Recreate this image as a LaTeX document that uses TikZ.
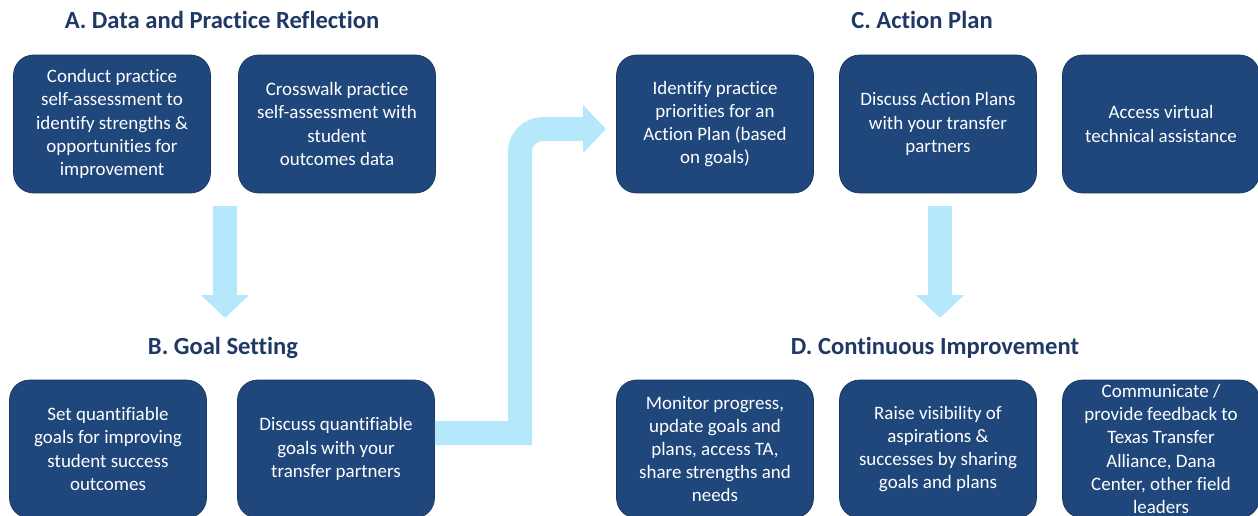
\documentclass[tikz,border=0pt]{standalone}
\usepackage{fontspec}
\setmainfont{Carlito}[Ligatures={NoCommon}]
\usetikzlibrary{positioning,arrows.meta}
\definecolor{boxblue}{RGB}{31,71,124}
\definecolor{boxedge}{RGB}{22,52,94}
\definecolor{titleblue}{RGB}{31,56,100}
\definecolor{flowblue}{RGB}{182,232,252}
\tikzset{
  stepbox/.style={rectangle, rounded corners=0.4cm, fill=boxblue, draw=boxedge,
    line width=0.4pt, text=white, minimum width=3.94cm, minimum height=2.76cm,
    align=center, inner sep=0pt, font=\fontsize{10.8}{13.2}\selectfont},
  phase/.style={text=titleblue, font=\fontsize{14}{16}\selectfont\bfseries},
  flow/.style={draw=flowblue, line width=0.48cm,
    -{Triangle[length=0.46cm,width=0.94cm]}}
}

\begin{document}
\begin{tikzpicture}[x=0.02cm, y=-0.02cm]
    \useasboundingbox (0,0) rectangle (1258,515);
    \clip (0,0) rectangle (1258,515);

    % Phase titles
    \node[phase] (atitle) at (222,20) {A. Data and Practice Reflection};
    \node[phase] (btitle) at (223,348) {B. Goal Setting};
    \node[phase] (ctitle) at (922,20) {C. Action Plan};
    \node[phase] (dtitle) at (935,348) {D. Continuous Improvement};

    % Arrows (drawn first so the boxes sit on top)
    \coordinate (abtop) at (225,206);
    \coordinate (abtip) at (225,318);
    \coordinate (cdtop) at (940,206);
    \coordinate (cdtip) at (940,318);
    \coordinate (bcbend) at (520,433);
    \coordinate (bcrise) at (520,129);
    \coordinate (bctip) at (606,129);
    \draw[flow] (abtop) -- (abtip);
    \draw[flow] (cdtop) -- (cdtip);

    % A. Data and Practice Reflection
    \node[stepbox] (a1) at (112,124) {Conduct practice\\self-assessment to\\identify strengths \&\\opportunities for\\improvement};
    \node[stepbox] (a2) at (337,124) {Crosswalk practice\\self-assessment with\\student\\outcomes data};

    % B. Goal Setting
    \node[stepbox] (b1) at (108,449) {Set quantifiable\\goals for improving\\student success\\outcomes};
    \node[stepbox] (b2) at (336,449) {Discuss quantifiable\\goals with your\\transfer partners};

    % B -> C
    \draw[flow] ([yshift=0.32cm]b2.east) -- (bcbend) [rounded corners=0.46cm] -- (bcrise) -- (bctip);

    % C. Action Plan
    \node[stepbox] (c1) at (715,124) {Identify practice\\priorities for an\\Action Plan (based\\on goals)};
    \node[stepbox] (c2) at (938,124) {Discuss Action Plans\\with your transfer\\partners};
    \node[stepbox] (c3) at (1161,124) {Access virtual\\technical assistance};

    % D. Continuous Improvement
    \node[stepbox] (d1) at (715,449) {Monitor progress,\\update goals and\\plans, access TA,\\share strengths and\\needs};
    \node[stepbox] (d2) at (938,449) {Raise visibility of\\aspirations \&\\successes by sharing\\goals and plans};
    \node[stepbox] (d3) at (1161,449) {Communicate /\\provide feedback to\\Texas Transfer\\Alliance, Dana\\Center, other field\\leaders};
\end{tikzpicture}
\end{document}
